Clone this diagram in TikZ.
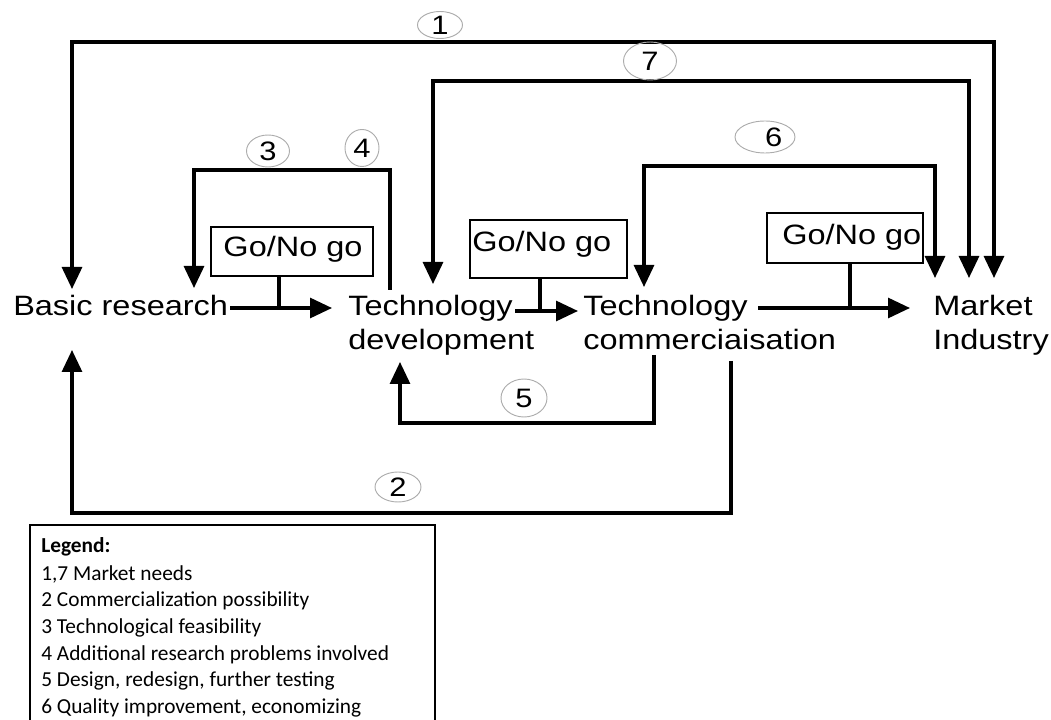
\documentclass[tikz,border=0pt]{standalone}
\usepackage{fontspec}
\setmainfont{Liberation Sans}
\newfontfamily\diagfont[FakeStretch=1.16]{Liberation Sans}
\newfontfamily\legfont{Carlito}
\usetikzlibrary{arrows.meta,shapes.geometric}

\begin{document}
\begin{tikzpicture}[x=0.75pt,y=-0.75pt,
  lbl/.style={font=\diagfont\fontsize{21pt}{25pt}\selectfont, inner sep=0pt, anchor=base west},
  conn/.style={line width=2.3pt},
  tip/.tip={Triangle[length=16.5pt,width=15pt]},
  arr/.style={conn, -tip},
  biarr/.style={conn, tip-tip},
  gate/.style={draw, line width=2.2pt, inner sep=0pt, rectangle},
  numtag/.style={draw=gray!65, line width=0.7pt, ellipse, inner sep=0pt,
    font=\diagfont\fontsize{20pt}{24pt}\selectfont},
  legline/.style={font=\legfont\fontsize{16pt}{19pt}\selectfont, inner sep=0pt, anchor=base west}]

\useasboundingbox (0,0) rectangle (1051,720);

% stage labels
\node[lbl] (bas) at (13,316) {Basic research};
\node[lbl] (td1) at (348,316) {Technology};
\node[lbl] (td2) at (348,350) {development};
\node[lbl] (tc1) at (583,316) {Technology};
\node[lbl] (tc2) at (583,350) {commerciaisation};
\node[lbl] (mk1) at (933,316) {Market};
\node[lbl] (mk2) at (933,350) {Industry};

% go / no-go gates
\node[gate, minimum width=121.5pt, minimum height=36.75pt] (g1) at (292,251.5) {};
\node[gate, minimum width=117.75pt, minimum height=43.5pt] (g2) at (548.5,249) {};
\node[gate, minimum width=117pt, minimum height=37.5pt] (g3) at (845,238) {};
\node[lbl, anchor=base] (g1t) at (293,257) {Go/No go};
\node[lbl] (g2t) at (472,252) {Go/No go};
\node[lbl] (g3t) at (782,245) {Go/No go};

% arrow end points
\coordinate (f1) at (332,308);
\coordinate (f2) at (578,311);
\coordinate (f3) at (910,308);
\coordinate (s1) at (279,308);
\coordinate (s2) at (540,311);
\coordinate (s3) at (850,308);

% main flow with gate stems
\draw[arr] (230,308) -- (f1);
\draw[arr] (515,311) -- (f2);
\draw[arr] (758,308) -- (f3);
\draw[conn] (g1.south -| s1) -- (s1);
\draw[conn] (g2.south -| s2) -- (s2);
\draw[conn] (g3.south -| s3) -- (s3);

% feedback and feed-forward loops
\coordinate (b1) at (72,289);
\coordinate (m1) at (994,278);
\coordinate (d7) at (433,284);
\coordinate (m7) at (969,278);
\coordinate (c6) at (644,287);
\coordinate (m6) at (935,278);
\coordinate (d4) at (390,290);
\coordinate (b3) at (194,288);
\coordinate (c5) at (654,355);
\coordinate (d5) at (400,362);
\coordinate (c2) at (731,361);
\coordinate (b2) at (72,350);

\draw[biarr] (b1) |- (994,42) -- (m1);
\draw[biarr] (d7) |- (969,81) -- (m7);
\draw[biarr] (c6) |- (935,166) -- (m6);
\draw[arr] (d4) |- (194,170) -- (b3);
\draw[arr] (c5) |- (400,423) -- (d5);
\draw[arr] (c2) |- (72,513) -- (b2);

% loop numbers
\node[numtag, minimum width=33.75pt, minimum height=20.25pt] (n1) at (440,25) {1};
\node[numtag, minimum width=39.75pt, minimum height=28.5pt] (n7) at (650,61) {7};
\node[numtag, minimum width=45pt, minimum height=24pt] (n6) at (765,137) {\hspace*{13pt}6};
\node[numtag, minimum width=32.25pt, minimum height=24pt] (n3) at (268,151) {3};
\node[numtag, minimum width=25.5pt, minimum height=27.75pt] (n4) at (362,148) {4};
\node[numtag, minimum width=34.5pt, minimum height=28.5pt] (n5) at (524,398) {5};
\node[numtag, minimum width=34.5pt, minimum height=22.5pt] (n2) at (398,487) {2};

% legend
\draw[line width=1.3pt] (30,745) |- (435,525) -- (435,745);
\node[legline] (lg0) at (41,553) {\bfseries Legend:};
\foreach \t [count=\i] in {{1,7 Market needs},
  {2 Commercialization possibility},
  {3 Technological feasibility},
  {4 Additional research problems involved},
  {5 Design, redesign, further testing},
  {6 Quality improvement, economizing}}
  \node[legline] (lg\i) at (41,554+26.5*\i) {\t};
\end{tikzpicture}
\end{document}
